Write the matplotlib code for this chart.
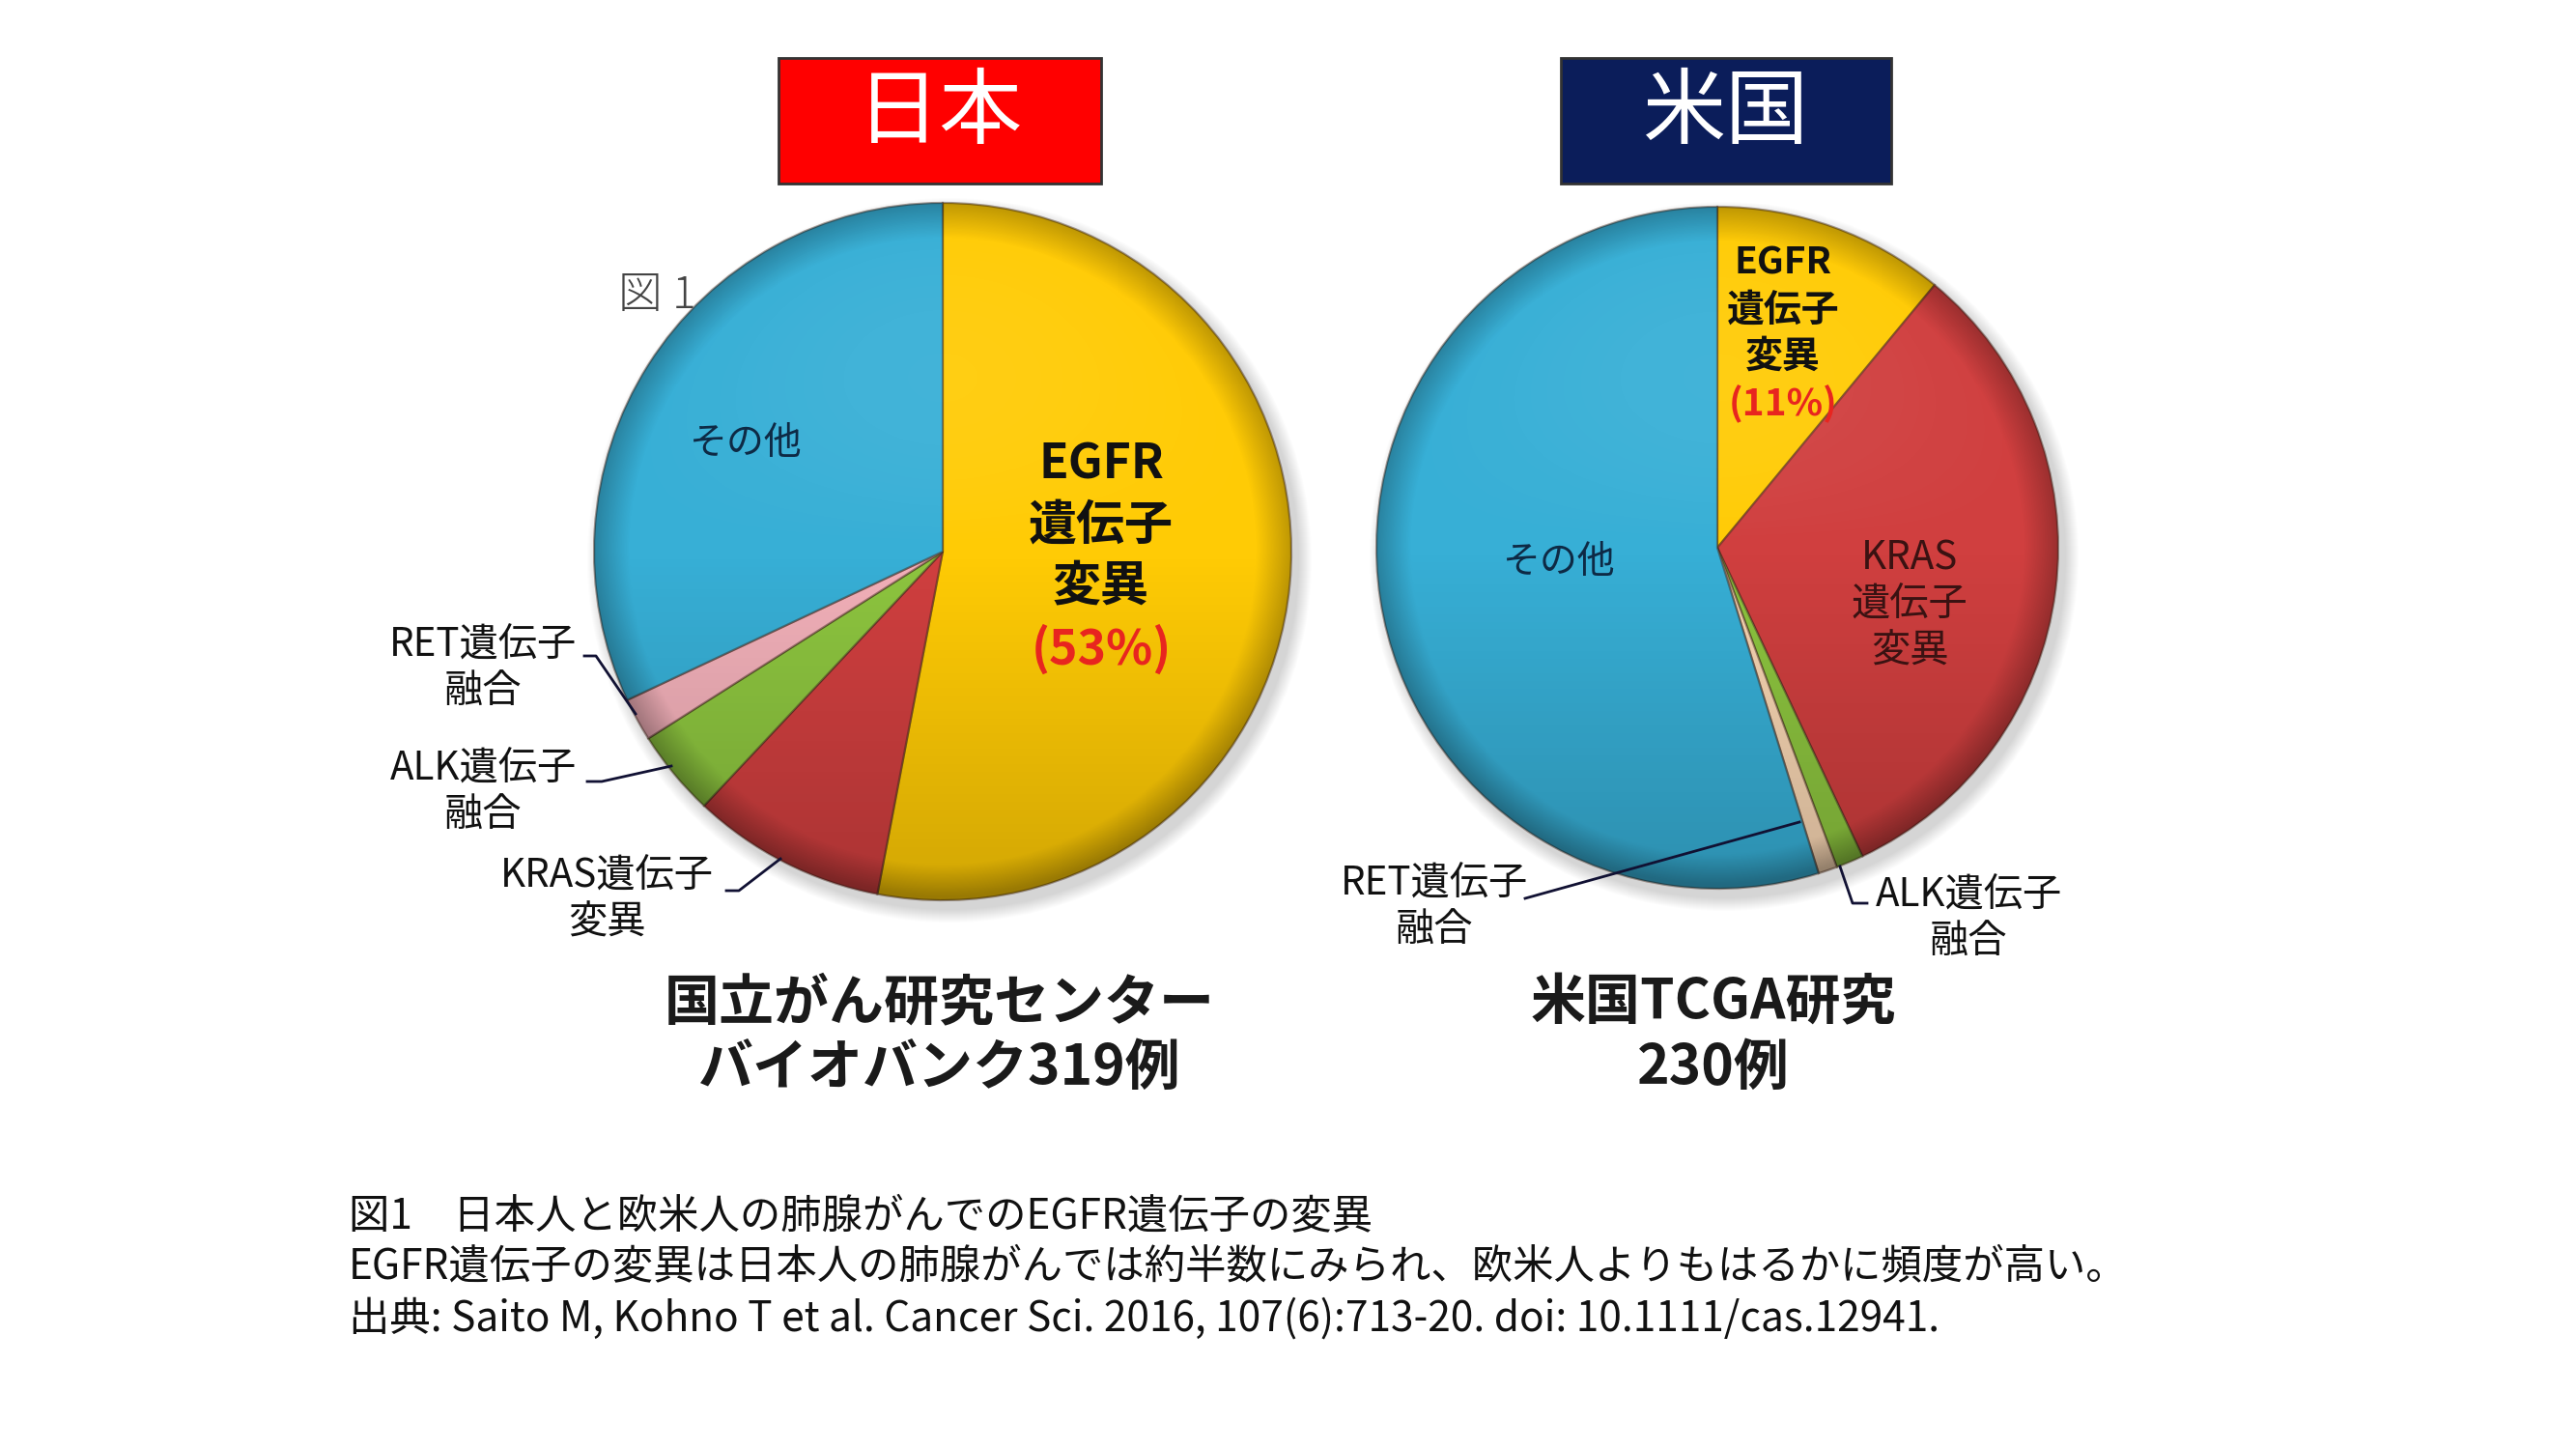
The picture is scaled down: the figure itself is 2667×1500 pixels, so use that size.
import numpy as np
import matplotlib
matplotlib.use("Agg")
import matplotlib.pyplot as plt
from matplotlib.patches import Circle, Rectangle

plt.rcParams['font.family'] = ['Noto Sans CJK JP', 'DejaVu Sans']

# data (percent of cases), order: EGFR, KRAS, ALK, RET, other
jp_values = [53, 9, 4, 2, 32]
us_values = [11, 32, 1.3, 0.9, 54.8]
jp_colors = ['#FFCB05', '#D03F3F', '#8DC53F', '#F2B0B9', '#37AFD6']
us_colors = ['#FFCB05', '#D03F3F', '#8DC53F', '#F8D6B3', '#37AFD6']

jp_title = '日本'
us_title = '米国'
jp_source = ['国立がん研究センター', 'バイオバンク319例']
us_source = ['米国TCGA研究', '230例']
caption = ['図1　日本人と欧米人の肺腺がんでのEGFR遺伝子の変異',
           'EGFR遺伝子の変異は日本人の肺腺がんでは約半数にみられ、欧米人よりもはるかに頻度が高い。',
           '出典: Saito M, Kohno T et al. Cancer Sci. 2016, 107(6):713-20. doi: 10.1111/cas.12941.']

W, H = 2667, 1500
fig = plt.figure(figsize=(W / 100, H / 100), dpi=100)
ax = fig.add_axes([0, 0, 1, 1])


def shaded_pie(values, colors, cx, cy, r):
    # soft shadow
    for k in range(14):
        ax.add_patch(Circle((cx + 7, cy - 9), r + 14 - k, color='k',
                            alpha=0.012, lw=0, zorder=1))
    wedges, _ = ax.pie(values, colors=colors, startangle=90, counterclock=False,
                       center=(cx, cy), radius=r,
                       wedgeprops=dict(edgecolor=(0.25, 0.15, 0.1, 0.45), linewidth=1.6))
    for w in wedges:
        w.set_zorder(2)
    # light from top, darker toward bottom and rim
    n = 400
    yy, xx = np.mgrid[1:-1:n * 1j, -1:1:n * 1j]
    rr = np.sqrt(xx ** 2 + yy ** 2)
    shade = np.zeros((n, n, 4))
    a = 0.18 * np.clip(-yy, 0, 1) + 0.25 * np.clip((rr - 0.9) / 0.1, 0, 1)
    shade[..., 3] = np.clip(a, 0, 0.4)
    im = ax.imshow(shade, extent=(cx - r, cx + r, cy - r, cy + r), zorder=3,
                   interpolation='bilinear')
    im.set_clip_path(Circle((cx, cy), r, transform=ax.transData))
    hl = np.ones((n, n, 4))
    hl[..., 3] = 0.16 * np.clip(yy, 0, 1) * np.clip(1 - rr, 0, 1) * 1.5
    im2 = ax.imshow(hl, extent=(cx - r, cx + r, cy - r, cy + r), zorder=3,
                    interpolation='bilinear')
    im2.set_clip_path(Circle((cx, cy), r, transform=ax.transData))


shaded_pie(jp_values, jp_colors, 976, 929, 361)
shaded_pie(us_values, us_colors, 1778, 933, 353)

ax.set_xlim(0, W)
ax.set_ylim(0, H)
ax.set_aspect('equal')
ax.axis('off')

# banners
ax.add_patch(Rectangle((806, 1310), 334, 130, facecolor='#FF0000',
                       edgecolor='#333333', lw=2, zorder=4))
ax.add_patch(Rectangle((1616, 1310), 342, 130, facecolor='#0B1D5A',
                       edgecolor='#333333', lw=2, zorder=4))
ax.text(973, 1382, jp_title, color='white', fontsize=62, ha='center', va='center', zorder=5)
ax.text(1787, 1382, us_title, color='white', fontsize=62, ha='center', va='center', zorder=5)

ax.text(640, 1194, '図 1', color='#444444', fontsize=33, fontweight='light',
        ha='left', va='center', zorder=5)

# labels inside left pie
for txt, y, c in [('EGFR', 1019, '#111111'), ('遺伝子', 956, '#111111'),
                  ('変異', 893, '#111111'), ('(53%)', 827, '#E8251F')]:
    ax.text(1140, y, txt, color=c, fontsize=36, fontweight='bold',
            ha='center', va='center', zorder=6)
ax.text(771, 1041, 'その他', color='#0E2A45', fontsize=28,
        ha='center', va='center', zorder=6)

# labels inside right pie
for txt, y, c in [('EGFR', 1228, '#111111'), ('遺伝子', 1179, '#111111'),
                  ('変異', 1131, '#111111'), ('(11%)', 1082, '#E8251F')]:
    ax.text(1846, y, txt, color=c, fontsize=28, fontweight='bold',
            ha='center', va='center', zorder=6)
for txt, y in [('KRAS', 922), ('遺伝子', 874), ('変異', 826)]:
    ax.text(1977, y, txt, color='#3A1212', fontsize=29,
            ha='center', va='center', zorder=6)
ax.text(1613, 918, 'その他', color='#0E2A45', fontsize=28,
        ha='center', va='center', zorder=6)

# outside labels with leader lines
outside = [
    ('RET遺伝子', '融合', 500, 832, [(605, 617, 658), (821, 821, 761)]),
    ('ALK遺伝子', '融合', 500, 704, [(608, 623, 695), (691, 691, 707)]),
    ('KRAS遺伝子', '変異', 628, 593, [(752, 765, 808), (578, 578, 611)]),
    ('RET遺伝子', '融合', 1485, 585, [(1579, 1863), (570, 649)]),
    ('ALK遺伝子', '融合', 2038, 573, [(1905, 1918, 1933), (603, 565, 565)]),
]
for l1, l2, x, y, (lx, ly) in outside:
    ax.text(x, y, l1, fontsize=29, color='#111111', ha='center', va='center', zorder=6)
    ax.text(x, y - 48, l2, fontsize=29, color='#111111', ha='center', va='center', zorder=6)
    ax.plot(lx, ly, color='#111133', lw=2, zorder=6)

# source titles under pies
for (t1, t2), x in [(jp_source, 973), (us_source, 1774)]:
    ax.text(x, 462, t1, fontsize=41, fontweight='bold', color='#1A1A1A',
            ha='center', va='center', zorder=6)
    ax.text(x, 394, t2, fontsize=41, fontweight='bold', color='#1A1A1A',
            ha='center', va='center', zorder=6)

# caption
for txt, y in zip(caption, [241, 189, 134]):
    ax.text(361, y, txt, fontsize=30.5, color='#111111', ha='left', va='center', zorder=6)

fig.savefig('out.png', dpi=100)
